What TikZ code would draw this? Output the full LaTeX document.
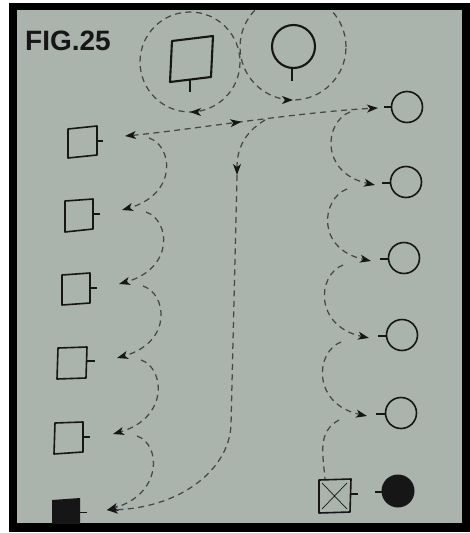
\documentclass[tikz,border=0pt]{standalone}
\usepackage{fontspec}
\setmainfont{Liberation Sans}
\usetikzlibrary{arrows.meta,decorations.markings,calc}
\definecolor{bg}{RGB}{171,179,173}
\definecolor{ink}{RGB}{22,22,22}
\definecolor{dashc}{RGB}{68,73,71}
\tikzset{
  dsh/.style={draw=dashc, line width=1.25pt, dash pattern=on 6pt off 4.5pt},
  sq/.style={draw=ink, line width=1.6pt, line join=round},
  bigsq/.style={draw=ink, line width=2.1pt, line join=round},
  stem/.style={draw=ink, line width=1.7pt},
  myst/.tip={Stealth[length=11pt,width=8pt,inset=3pt,color=ink]},
  arr/.style={-myst},
  midarrow/.style={postaction={decorate}, decoration={markings, mark=at position #1 with {\arrow{myst}}}},
}
\begin{document}
\begin{tikzpicture}[x=1pt,y=-1pt]
\useasboundingbox (0,0) rectangle (470,533);
\fill[white] (0,0) rectangle (470,533);
\fill[black] (9,3) rectangle (470,532);
\fill[bg] (17,10) rectangle (462,523);
\begin{scope}
\clip (17,10) rectangle (462,523);
% title
\node[anchor=base west, inner sep=0pt, text=ink, font=\bfseries\fontsize{28}{30}\selectfont] (title) at (25,50) {FIG.25};
% arrow-tip coordinates
\coordinate (A1) at (125,136);
\coordinate (A2) at (122,210);
\coordinate (A3) at (119,284);
\coordinate (A4) at (117,358);
\coordinate (A5) at (113,434);
\coordinate (A6) at (107,510);
\coordinate (B1) at (378,108);
\coordinate (B2) at (375,185);
\coordinate (B3) at (371,261);
\coordinate (B4) at (369,338);
\coordinate (B5) at (367,416);
\coordinate (V) at (237,175);
% top parents
\draw[bigsq] (172,41) -- (213,36) -- (211,77) -- (170,82) -- cycle;
\draw[stem] (190,80) -- (190,92);
\draw[bigsq] (293.5,46.5) circle[radius=21.5];
\draw[stem] (292,68) -- (292,81);
\draw[dsh, midarrow=0.25] (240,62) arc[start angle=0, end angle=360, radius=50];
\draw[dsh, midarrow=0.75] (346,47) arc[start angle=0, end angle=-360, radius=53];
% main connectors
\draw[dsh, myst-myst, midarrow=0.46] (A1) .. controls (180,131) and (300,112) .. (B1);
\draw[dsh, arr] (265,120) .. controls (245,132) and (237,148) .. (V);
\draw[dsh, arr] (V) -- (231,425) .. controls (229,470) and (180,508) .. (A6);
% left arcs
\foreach \a/\b in {A1/A2,A2/A3,A3/A4,A4/A5,A5/A6}
  \draw[dsh, arr] ($(\a)+(24,2)$) .. controls +(24,8) and +(56,-16) .. (\b);
% right arcs
\foreach \a/\b in {B1/B2,B2/B3,B3/B4,B4/B5}
  \draw[dsh, arr] ($(\a)+(-28,4)$) .. controls +(-26,10) and +(-55,-12) .. (\b);
\draw[dsh] ($(B5)+(-28,4)$) .. controls +(-22,12) and +(-2,-25) .. (325,479);
% left squares
\draw[sq] (68,129) -- (97,126) -- (97,155) -- (68,158) -- cycle;
\draw[stem] (97,141) -- (103,141);
\draw[sq] (65,201) -- (93,199) -- (93,229) -- (65,232) -- cycle;
\draw[stem] (93,214) -- (100,214);
\draw[sq] (62,275) -- (90,273) -- (90,303) -- (62,305) -- cycle;
\draw[stem] (90,288) -- (97,288);
\draw[sq] (58,348) -- (87,347) -- (86,378) -- (57,379) -- cycle;
\draw[stem] (87,361) -- (95,361);
\draw[sq] (55,423) -- (83,422) -- (83,452) -- (54,454) -- cycle;
\draw[stem] (83,437) -- (90,437);
\fill[ink] (52,500) -- (80,498) -- (80,530) -- (52,530) -- cycle;
\draw[ink, line width=1pt] (80,512) -- (87,512);
% right circles
\foreach \c in {(407,107),(406,182),(404,258),(402,335),(401,413)}
  \draw[sq] \c circle[radius=15.5];
\draw[stem] (384,107) -- (392,107);
\draw[stem] (382,183) -- (391,183);
\draw[stem] (380,259) -- (389,259);
\draw[stem] (378,336) -- (387,336);
\draw[stem] (376,414) -- (386,414);
% crossed square and filled circle
\draw[sq] (319,480) -- (351,479) -- (350,512) -- (319,513) -- cycle;
\draw[ink, line width=0.7pt] (322,483) -- (347,509) (347,483) -- (322,509);
\draw[stem] (350,494) -- (358,494);
\fill[ink] (398,491) circle[radius=16.5];
\draw[stem] (375,492) -- (383,492);
\end{scope}
\end{tikzpicture}
\end{document}
